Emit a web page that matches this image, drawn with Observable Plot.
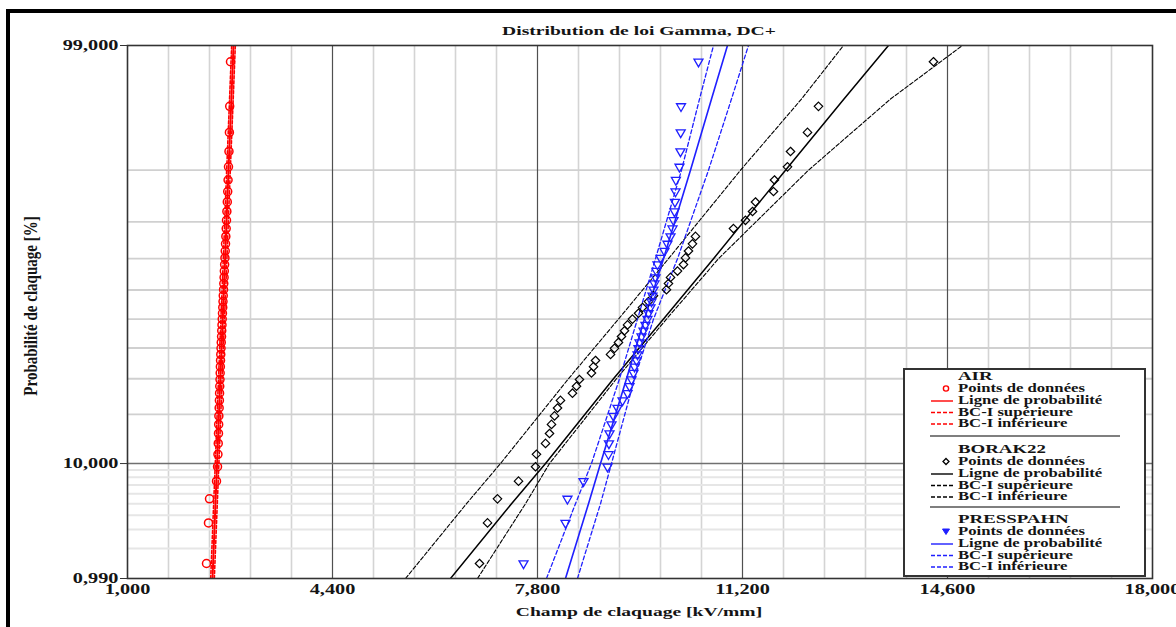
<!DOCTYPE html>
<html><head><meta charset="utf-8">
<script src="https://cdn.jsdelivr.net/npm/d3@7"></script>
<script src="https://cdn.jsdelivr.net/npm/@observablehq/plot@0.6"></script>
<style>
body{margin:0;background:#fff;}
#wrap{position:relative;width:1176px;height:627px;overflow:hidden;background:#fff;font-family:"Liberation Serif","Times New Roman",serif;font-weight:bold;color:#141414;}
#chart{position:absolute;left:0;top:0;}
#chart svg{font-family:"Liberation Serif","Times New Roman",serif;font-size:14px;font-weight:bold;}
#chart svg text{fill:#141414;}
.t{position:absolute;white-space:nowrap;line-height:1;}
#outer{position:absolute;left:6px;top:9px;width:1300px;height:800px;border-top:4px solid #000;border-left:4px solid #000;}
#legend{position:absolute;left:903px;top:368px;width:239px;height:205px;border:2px solid #333;background:#fff;}
</style></head>
<body><div id="wrap"><div id="outer"></div><div id="chart"></div></div>
<script>
// ---------------- data ----------------
const title = "Distribution de loi Gamma, DC+";
const xLabel = "Champ de claquage [kV/mm]";
const yLabel = "Probabilité de claquage [%]";

const xTicks = [1000, 4400, 7800, 11200, 14600, 18000];
const xMajorGrid = [4400, 7800, 11200, 14600];
const xMinorGrid = [1680, 2360, 3040, 3720, 5080, 5760, 6440, 7120, 8480, 9160, 9840, 10520, 11880, 12560, 13240, 13920, 15280, 15960, 16640, 17320];
const yTickPct = [0.99, 10, 99];
const yTickLabels = ["0,990", "10,000", "99,000"];
const yGridMajorPct = [20, 30, 40, 50, 60, 70, 80, 90];
const yGridMinorPct = [2, 3, 4, 5, 6, 7, 8, 9];
const yGridDarkPct = [10];

// plotting positions (%) of the 49 ranked data points
const rankPct = [1.42, 3.44, 5.47, 7.49, 9.51, 11.54, 13.56, 15.59, 17.61, 19.64, 21.66, 23.68, 25.71, 27.73, 29.76, 31.78, 33.81, 35.83, 37.85, 39.88, 41.90, 43.93, 45.95, 47.98, 50.00, 52.02, 54.05, 56.07, 58.10, 60.12, 62.15, 64.17, 66.19, 68.22, 70.24, 72.27, 74.29, 76.32, 78.34, 80.36, 82.39, 84.41, 86.44, 88.46, 90.49, 92.51, 94.53, 96.56, 98.58];

const airX = [2310, 2343, 2360, 2476, 2493, 2500, 2505, 2509, 2512, 2515, 2520, 2524, 2527, 2530, 2534, 2537, 2540, 2543, 2547, 2551, 2555, 2560, 2563, 2567, 2571, 2575, 2580, 2584, 2588, 2593, 2597, 2602, 2606, 2611, 2616, 2621, 2626, 2631, 2637, 2642, 2648, 2655, 2662, 2668, 2675, 2683, 2690, 2695, 2708];
const borakX = [6838, 6971, 7136, 7485, 7767, 7783, 7933, 7999, 8032, 8082, 8132, 8181, 8380, 8447, 8496, 8695, 8729, 8762, 9011, 9077, 9143, 9193, 9243, 9293, 9375, 9475, 9541, 9641, 9724, 9939, 9972, 10006, 10122, 10221, 10254, 10304, 10370, 10420, 11050, 11249, 11366, 11415, 11714, 11730, 11946, 11996, 12278, 12460, 14367];
const pressX = [7568, 8264, 8297, 8563, 8961, 8977, 8985, 8994, 9027, 9060, 9127, 9210, 9293, 9326, 9359, 9392, 9409, 9442, 9459, 9475, 9492, 9525, 9558, 9591, 9624, 9641, 9674, 9691, 9707, 9724, 9740, 9757, 9773, 9790, 9840, 9906, 9956, 10006, 10039, 10056, 10072, 10080, 10089, 10095, 10155, 10171, 10175, 10180, 10470];

// fitted lines and confidence bounds, x read at these probability levels (%)
const linePct = [0.99, 5, 10, 30, 50, 70, 90, 97, 99];
const airLine  = [2410, 2459, 2486, 2539, 2579, 2619, 2675, 2723, 2758];
const airUp    = [2380, 2429, 2456, 2509, 2549, 2589, 2645, 2693, 2728];
const airLow   = [2440, 2489, 2516, 2569, 2609, 2649, 2705, 2753, 2788];
const borakLine = [6357, 7369, 7933, 9060, 9890, 10719, 11913, 12883, 13621];
const borakUp   = [5611, 6622, 7186, 8314, 9143, 9972, 11167, 12178, 12875];
const borakLow  = [6805, 7601, 7999, 9110, 9939, 10802, 12294, 13654, 14848];
const pressLine = [8264, 8646, 8845, 9276, 9574, 9890, 10337, 10686, 10951];
const pressUp   = [7949, 8430, 8695, 9160, 9458, 9757, 10188, 10487, 10719];
const pressLow  = [8463, 8845, 9027, 9409, 9724, 10122, 10636, 11017, 11299];

const seriesNames = ["AIR", "BORAK22", "PRESSPAHN"];
const seriesColors = ["#ff0000", "#000000", "#1f1fff"];
const legendItems = ["Points de données", "Ligne de probabilité", "BC-I supérieure", "BC-I inférieure"];

// ---------------- probability paper (gamma, Wilson–Hilferty) ----------------
function probit(p) {
  const a = [-3.969683028665376e+01, 2.209460984245205e+02, -2.759285104469687e+02, 1.383577518672690e+02, -3.066479806614716e+01, 2.506628277459239e+00];
  const b = [-5.447609879822406e+01, 1.615858368580409e+02, -1.556989798598866e+02, 6.680131188771972e+01, -1.328068155288572e+01];
  const c = [-7.784894002430293e-03, -3.223964580411365e-01, -2.400758277161838e+00, -2.549732539343734e+00, 4.374664141464968e+00, 2.938163982698783e+00];
  const d = [7.784695709041462e-03, 3.224671290700398e-01, 2.445134137142996e+00, 3.754408661907416e+00];
  const pl = 0.02425;
  let q, r;
  if (p < pl) {
    q = Math.sqrt(-2 * Math.log(p));
    return (((((c[0]*q+c[1])*q+c[2])*q+c[3])*q+c[4])*q+c[5]) / ((((d[0]*q+d[1])*q+d[2])*q+d[3])*q+1);
  } else if (p <= 1 - pl) {
    q = p - 0.5; r = q*q;
    return (((((a[0]*r+a[1])*r+a[2])*r+a[3])*r+a[4])*r+a[5])*q / (((((b[0]*r+b[1])*r+b[2])*r+b[3])*r+b[4])*r+1);
  } else {
    q = Math.sqrt(-2 * Math.log(1 - p));
    return -(((((c[0]*q+c[1])*q+c[2])*q+c[3])*q+c[4])*q+c[5]) / ((((d[0]*q+d[1])*q+d[2])*q+d[3])*q+1);
  }
}
const SHAPE = 800;
const WC = 1 / (9 * SHAPE), WS = Math.sqrt(WC);
const paper = pct => Math.pow(1 - WC + probit(pct / 100) * WS, 3);

// ---------------- tables ----------------
const mkPts = (xs) => xs.map((x, i) => ({x, p: rankPct[i]}));
const mkLine = (xs) => xs.map((x, i) => ({x, p: linePct[i]}));
const yTickMap = new Map(yTickPct.map((p, i) => [paper(p), yTickLabels[i]]));

const lineSpecs = [
  {data: airLine, color: seriesColors[0], dash: null, w: 2},
  {data: airUp, color: seriesColors[0], dash: "3,2", w: 1.6},
  {data: airLow, color: seriesColors[0], dash: "3,2", w: 1.6},
  {data: borakLine, color: seriesColors[1], dash: null, w: 1.5},
  {data: borakUp, color: seriesColors[1], dash: "4,2", w: 1.1},
  {data: borakLow, color: seriesColors[1], dash: "4,2", w: 1.1},
  {data: pressLine, color: seriesColors[2], dash: null, w: 1.6},
  {data: pressUp, color: seriesColors[2], dash: "4,2.5", w: 1.3},
  {data: pressLow, color: seriesColors[2], dash: "4,2.5", w: 1.3}
];

const yAcc = d => paper(d.p);

const chart = Plot.plot({
  width: 1176,
  height: 627,
  marginLeft: 127,
  marginRight: 24,
  marginTop: 45,
  marginBottom: 49,
  x: {domain: [1000, 18000]},
  y: {domain: [paper(0.99), paper(99)]},
  marks: [
    Plot.ruleX(xMinorGrid, {stroke: "#d4d4d4", strokeWidth: 1.6}),
    Plot.ruleY(yGridMinorPct, {y: d => paper(d), stroke: "#e6e6e6", strokeWidth: 2}),
    Plot.ruleY(yGridMajorPct, {y: d => paper(d), stroke: "#d0d0d0", strokeWidth: 1.8}),
    Plot.ruleX(xMajorGrid, {stroke: "#505050", strokeWidth: 1.2}),
    Plot.ruleY(yGridDarkPct, {y: d => paper(d), stroke: "#707070", strokeWidth: 1.4}),
    ...lineSpecs.map(s => Plot.line(mkLine(s.data), {x: "x", y: yAcc, stroke: s.color, strokeWidth: s.w, strokeDasharray: s.dash, clip: true})),
    Plot.dot(mkPts(airX), {x: "x", y: yAcc, r: 4, stroke: seriesColors[0], strokeWidth: 1.5, fill: "none"}),
    Plot.dot(mkPts(borakX), {x: "x", y: yAcc, symbol: "diamond2", r: 3.8, stroke: seriesColors[1], strokeWidth: 1.2, fill: "none"}),
    Plot.dot(mkPts(pressX), {x: "x", y: yAcc, symbol: "triangle2", rotate: 180, r: 4.3, stroke: seriesColors[2], strokeWidth: 1.3, fill: "none"}),
    Plot.frame({stroke: "#333", strokeWidth: 1.6}),
    Plot.axisX({ticks: xTicks, tickFormat: d3.format(","), tickSize: 0, tickPadding: 6, label: null}),
    Plot.axisY({ticks: yTickPct.map(paper), tickFormat: v => yTickMap.get(v), tickSize: 7, tickPadding: 2, label: null, stroke: "#333"})
  ]
});

const wrap = document.getElementById("wrap");
document.getElementById("chart").appendChild(chart);

// stretch axis labels horizontally like the reference (keep em-based offsets)
chart.querySelectorAll("text").forEach(t => {
  const tr = t.getAttribute("transform") || "";
  t.setAttribute("transform", tr + " scale(1.45,1)");
});

// ---------------- html text ----------------
function addText(str, x, y, {size = 14, anchor = "middle", sx = 1.45, rotate = false} = {}) {
  const el = document.createElement("div");
  el.className = "t";
  el.textContent = str;
  el.style.left = x + "px";
  el.style.top = y + "px";
  el.style.fontSize = size + "px";
  if (rotate) {
    el.style.transformOrigin = "50% 50%";
    el.style.transform = `translate(-50%,-50%) rotate(-90deg) scaleY(${sx})`;
  } else if (anchor === "middle") {
    el.style.transformOrigin = "50% 50%";
    el.style.transform = `translate(-50%,-50%) scaleX(${sx})`;
  } else {
    el.style.transformOrigin = "0 50%";
    el.style.transform = `translateY(-50%) scaleX(${sx})`;
  }
  wrap.appendChild(el);
  return el;
}

addText(title, 639, 31, {size: 13.5});
addText(xLabel, 639, 612, {size: 13.5});
addText(yLabel, 31, 306, {size: 15, rotate: true, sx: 1.3});

// ---------------- legend ----------------
const leg = document.createElement("div");
leg.id = "legend";
wrap.appendChild(leg);

const LX = 903, LY = 368;
const lsvg = d3.select(wrap).append("svg")
  .attr("width", 241).attr("height", 209)
  .style("position", "absolute").style("left", LX + "px").style("top", LY + "px");

const groupTop = [375, 448, 518];
const itemOff = [13.5, 26, 37.5, 49];
const sepY = [436, 507];

sepY.forEach(y => lsvg.append("line").attr("x1", 930 - LX).attr("x2", 1120 - LX)
  .attr("y1", y - LY).attr("y2", y - LY).attr("stroke", "#555").attr("stroke-width", 1.3));

seriesNames.forEach((name, gi) => {
  const col = seriesColors[gi];
  addText(name, 958, groupTop[gi], {size: 13, anchor: "start"});
  legendItems.forEach((item, k) => {
    const y = groupTop[gi] + itemOff[k];
    addText(item, 958, y, {size: 11.5, anchor: "start"});
    const yy = y - LY;
    if (k === 0) {
      const cx = 946 - LX;
      if (gi === 0) lsvg.append("circle").attr("cx", cx).attr("cy", yy).attr("r", 2.6).attr("fill", "none").attr("stroke", col).attr("stroke-width", 1.4);
      else if (gi === 1) lsvg.append("path").attr("d", `M${cx},${yy-3}L${cx+3},${yy}L${cx},${yy+3}L${cx-3},${yy}Z`).attr("fill", "none").attr("stroke", col).attr("stroke-width", 1.3);
      else lsvg.append("path").attr("d", `M${cx-3.5},${yy-2.5}L${cx+3.5},${yy-2.5}L${cx},${yy+3}Z`).attr("fill", col).attr("stroke", col).attr("stroke-width", 1);
    } else {
      lsvg.append("line").attr("x1", 931 - LX).attr("x2", 953 - LX).attr("y1", yy).attr("y2", yy)
        .attr("stroke", col).attr("stroke-width", 1.4)
        .attr("stroke-dasharray", k === 1 ? null : "4,2");
    }
  });
});
</script>
</body></html>
